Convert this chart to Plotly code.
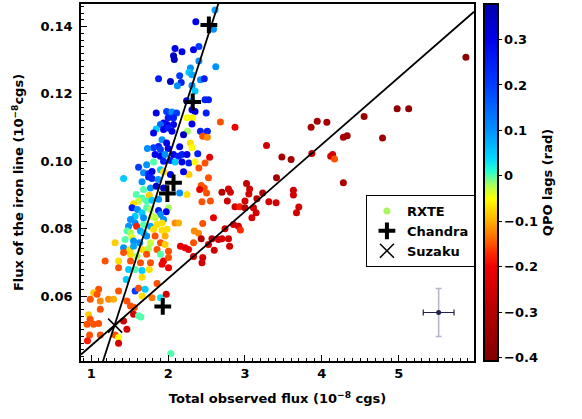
import numpy as np
import plotly.graph_objects as go

# ---------------- data ----------------
# upper cluster
a_flux = [2.61, 2.36, 2.59, 2.09, 2.18, 2.07, 2.08, 2.33, 2.40, 2.40, 2.62, 2.29, 2.27, 2.31, 2.15, 1.875, 2.03, 2.17, 2.42, 2.47, 2.12, 2.31, 2.35]
a_iron = [0.1449, 0.1414, 0.1392, 0.1335, 0.1325, 0.1313, 0.1302, 0.1331, 0.1341, 0.1298, 0.1281, 0.1277, 0.1264, 0.1257, 0.1254, 0.1245, 0.1237, 0.1234, 0.1242, 0.1245, 0.1224, 0.1225, 0.1209]
a_lag = [0.08, 0.3, 0.1, 0.3, 0.3, 0.35, 0.35, 0.3, 0.2, 0.1, 0.1, 0.1, 0.05, 0.08, 0.2, 0.25, 0.35, 0.25, 0.1, 0.25, 0.1, 0.1, 0.05]

# upper-middle cluster
b_flux = [2.24, 2.31, 2.48, 2.525, 2.35, 2.31, 1.845, 1.98, 2.05, 2.11, 2.495, 2.68, 2.00, 2.07, 2.245,
          2.32, 1.94, 1.985, 2.07, 2.31, 1.90, 1.845, 1.94, 2.00, 2.05, 1.81, 2.25, 2.42, 2.51, 2.45,
          2.51, 1.92, 1.98, 1.875, 1.81, 1.90, 1.73, 2.00, 2.15, 2.29, 2.31, 2.87, 3.28, 2.20]
b_iron = [0.1180, 0.1180, 0.1183, 0.1183, 0.1148, 0.1153, 0.1143, 0.1148, 0.1146, 0.1143, 0.1143, 0.1117, 0.1129, 0.1129, 0.1129,
          0.1129, 0.1114, 0.1109, 0.1109, 0.1111, 0.1109, 0.1096, 0.1094, 0.1099, 0.1089, 0.1084, 0.1089, 0.1089, 0.1089, 0.1074,
          0.1071, 0.1064, 0.1054, 0.1044, 0.1040, 0.1035, 0.1038, 0.1038, 0.1043, 0.1054, 0.1040, 0.1101, 0.1047, 0.1079]
b_lag = [0.3, 0.05, 0.25, 0.25, 0.3, 0.3, 0.3, 0.2, 0.1, 0.2, 0.25, -0.15, 0.25, 0.25, -0.05,
         -0.05, 0.3, 0.3, 0.3, 0.3, 0.15, 0.05, 0.3, 0.25, 0.3, 0.3, -0.02, 0.25, 0.25, -0.15,
         -0.12, 0.1, 0.3, 0.25, 0.2, 0.2, 0.1, 0.3, 0.3, -0.07, -0.05, -0.2, -0.25, 0.35]

# middle cluster
c_flux = [2.385, 2.54, 2.48, 1.83, 1.90, 1.96, 2.07, 2.135, 2.18, 2.245, 1.72, 1.615, 1.81, 1.94, 2.03,
          2.09, 2.18, 2.27, 2.35, 2.40, 1.68, 1.745, 1.79, 1.90, 1.94, 2.03, 2.27, 2.20, 2.525, 3.48,
          3.60, 3.41, 1.42, 1.66, 1.745, 1.79, 1.87, 1.68, 1.77, 1.845, 1.94, 2.15, 2.245, 1.585, 1.66,
          1.755, 3.02, 3.06, 2.43, 2.47, 2.41, 2.50, 2.70, 2.785, 2.81, 3.05, 3.23, 3.63, 3.63, 4.28,
          3.87, 4.115, 4.14, 4.165]
c_iron = [0.1022, 0.1012, 0.0995, 0.1020, 0.1015, 0.1020, 0.1020, 0.1015, 0.1020, 0.1020, 0.0990, 0.0982, 0.0998, 0.1000, 0.1002,
          0.0998, 0.0998, 0.0995, 0.0998, 0.0980, 0.0966, 0.0963, 0.0970, 0.0975, 0.0969, 0.0961, 0.0961, 0.0969, 0.0951, 0.1013,
          0.1005, 0.0951, 0.0949, 0.0939, 0.0953, 0.0949, 0.0946, 0.0916, 0.0921, 0.0926, 0.0921, 0.0906, 0.0901, 0.0901, 0.0891,
          0.0899, 0.0934, 0.0918, 0.0928, 0.0921, 0.0916, 0.0906, 0.0908, 0.0918, 0.0908, 0.0903, 0.0906, 0.0914, 0.0900, 0.0936,
          0.1023, 0.1015, 0.1020, 0.1007]
c_lag = [0.25, -0.22, -0.15, 0.3, 0.3, 0.1, 0.3, 0.25, 0.25, 0.3, 0.1, 0.2, 0.0, 0.25, 0.25,
         0.05, 0.3, 0.25, -0.05, -0.15, 0.1, 0.25, 0.3, 0.05, -0.07, 0.3, -0.08, 0.3, -0.15, -0.33,
         -0.33, -0.33, 0.05, 0.1, 0.25, 0.25, 0.1, 0.0, 0.1, 0.35, 0.35, 0.1, -0.07, 0.0, 0.0,
         -0.08, -0.28, -0.25, -0.15, -0.15, -0.22, -0.15, -0.3, -0.25, -0.25, -0.25, -0.3, -0.25, -0.25, -0.32,
         -0.28, -0.25, -0.25, -0.15]

# lower-middle cluster
d_flux = [1.615, 1.55, 1.72, 1.79, 1.875, 2.005, 1.53, 1.60, 1.66, 1.72, 1.77, 1.875, 1.975, 1.90, 1.57,
          1.68, 1.79, 1.83, 1.94, 1.51, 1.57, 1.485, 1.59, 1.68, 1.77, 1.855, 1.92, 2.09, 2.135, 1.465,
          1.51, 1.64, 1.68, 1.81, 1.92, 1.985, 1.53, 1.72, 1.83, 1.96, 1.31, 1.44, 1.55, 1.63, 1.77,
          1.90, 1.96, 2.16, 2.22, 2.265, 1.42, 1.50, 1.55, 1.66, 1.745, 1.855, 2.005, 1.42, 1.51, 1.595,
          1.72, 1.90, 1.18, 1.355, 1.51, 1.64, 1.77, 1.94, 2.005, 1.92]
d_iron = [0.0881, 0.0874, 0.0881, 0.0884, 0.0887, 0.0862, 0.0862, 0.0857, 0.0847, 0.0862, 0.0857, 0.0854, 0.0850, 0.0842, 0.0837,
          0.0832, 0.0837, 0.0832, 0.0827, 0.0827, 0.0817, 0.0807, 0.0807, 0.0812, 0.0807, 0.0812, 0.0817, 0.0817, 0.0817, 0.0793,
          0.0788, 0.0793, 0.0788, 0.0798, 0.0795, 0.0798, 0.0773, 0.0778, 0.0778, 0.0778, 0.0758, 0.0768, 0.0763, 0.0758, 0.0758,
          0.0758, 0.0753, 0.0748, 0.0743, 0.0738, 0.0743, 0.0738, 0.0748, 0.0738, 0.0741, 0.0738, 0.0733, 0.0729, 0.0724, 0.0719,
          0.0724, 0.0724, 0.0704, 0.0704, 0.0704, 0.0699, 0.0699, 0.0704, 0.0714, 0.0694]
d_lag = [-0.03, -0.07, 0.0, 0.05, 0.1, -0.02, 0.25, 0.1, 0.05, 0.0, -0.02, 0.25, 0.3, 0.1, 0.05,
         0.1, -0.03, -0.03, 0.1, 0.1, 0.1, 0.1, -0.18, 0.0, 0.08, -0.07, -0.07, -0.12, -0.1, 0.0,
         -0.02, 0.08, 0.05, -0.07, -0.07, -0.07, -0.04, 0.1, -0.15, -0.1, -0.08, 0.0, 0.1, 0.1, -0.03,
         -0.15, -0.08, -0.22, -0.22, -0.22, 0.1, -0.07, 0.08, -0.07, -0.02, -0.15, -0.15, -0.15, -0.07, -0.02,
         -0.15, 0.0, -0.15, -0.07, -0.15, -0.15, -0.15, -0.22, -0.15, -0.2]

# red branch (near the shallow line)
r_flux = [2.44, 2.55, 2.77, 3.00, 3.155, 3.31, 3.405, 2.87, 2.93, 3.00, 3.11, 3.145, 3.09, 2.59, 2.45,
          2.85, 2.915, 2.74, 2.94, 2.34, 2.395, 2.43, 2.57, 2.655, 2.70, 2.785, 2.80, 2.33, 2.525, 2.60,
          2.45, 2.33, 2.44, 3.70, 3.67]
r_iron = [0.0880, 0.0882, 0.0882, 0.0882, 0.0889, 0.0880, 0.0877, 0.0865, 0.0865, 0.0862, 0.0862, 0.0847, 0.0832, 0.0832, 0.0815,
          0.0812, 0.0807, 0.0800, 0.0796, 0.0793, 0.0786, 0.0770, 0.0770, 0.0768, 0.0770, 0.0770, 0.0748, 0.0758, 0.0753, 0.0736,
          0.0714, 0.0717, 0.0699, 0.0864, 0.0847]
r_lag = [-0.15, -0.15, -0.25, -0.25, -0.3, -0.25, -0.25, -0.25, -0.18, -0.3, -0.25, -0.25, -0.25, -0.22, -0.15,
         -0.25, -0.25, -0.25, -0.17, -0.12, -0.12, -0.3, -0.3, -0.25, -0.25, -0.25, -0.25, -0.15, -0.25, -0.25,
         -0.25, -0.25, -0.25, -0.25, -0.25]

# far bright end
e_flux = [5.875, 4.98, 5.13, 4.55, 3.86, 3.94, 4.065, 4.28, 4.33, 4.79]
e_iron = [0.1309, 0.1156, 0.1156, 0.1133, 0.1101, 0.1119, 0.1116, 0.1071, 0.1076, 0.1069]
e_lag = [-0.38, -0.37, -0.37, -0.35, -0.33, -0.33, -0.33, -0.33, -0.33, -0.35]

# faint end
f_flux = [1.355, 1.485, 1.57, 1.66, 1.755, 2.005, 1.66, 1.455, 1.095, 1.03, 1.355, 1.57, 1.615, 1.70, 1.855,
          1.117, 1.225, 1.29, 1.463, 1.51, 1.56, 1.66, 1.79, 1.90, 1.975, 1.55, 1.615, 1.645, 0.965, 0.945,
          1.03, 0.985, 1.095, 1.42, 1.463, 0.978, 1.117, 1.31, 1.355, 0.95, 1.355, 2.036, 0.987, 1.075, 1.117]
f_iron = [0.0684, 0.0679, 0.0679, 0.0676, 0.0679, 0.0684, 0.0656, 0.0649, 0.0620, 0.0610, 0.0615, 0.0615, 0.0623, 0.0620, 0.0637,
          0.0561, 0.0590, 0.0590, 0.0585, 0.0570, 0.0566, 0.0600, 0.0595, 0.0595, 0.0605, 0.0546, 0.0541, 0.0538, 0.0544, 0.0516,
          0.0516, 0.0531, 0.0518, 0.0526, 0.0501, 0.0484, 0.0484, 0.0484, 0.0477, 0.0467, 0.0460, 0.0429, 0.0590, 0.0605, 0.0585]
f_lag = [-0.15, 0.05, 0.0, 0.05, -0.07, -0.2, -0.07, 0.05, -0.15, -0.08, -0.15, 0.2, -0.15, 0.05, -0.15,
         -0.15, -0.12, -0.1, -0.15, -0.15, -0.15, -0.07, -0.13, 0.03, -0.25, -0.25, 0.0, 0.0, -0.08, -0.15,
         -0.15, -0.15, -0.15, -0.25, -0.25, -0.15, -0.15, -0.15, -0.05, -0.18, -0.25, 0.0, -0.15, -0.15, -0.12]

chandra_flux = [2.53, 2.32, 2.07, 1.99, 1.93]
chandra_iron = [0.1405, 0.1176, 0.0936, 0.0904, 0.0569]
suzaku_flux = [1.31]
suzaku_iron = [0.0512]

# typical error bar
err_flux, err_iron = [5.52], [0.0551]
err_dflux, err_diron = [0.20], [0.0071]

# fitted relations
steep_slope, steep_intercept = 0.0707, -0.0408
shallow_slope, shallow_intercept = 0.0199, 0.0254

lag_min, lag_max = -0.407, 0.378
x_range = [0.866, 5.98]
y_range = [0.0407, 0.1467]

# ---------------- assemble ----------------
rxte_flux = a_flux + b_flux + c_flux + d_flux + r_flux + e_flux + f_flux
rxte_iron = a_iron + b_iron + c_iron + d_iron + r_iron + e_iron + f_iron
rxte_lag = a_lag + b_lag + c_lag + d_lag + r_lag + e_lag + f_lag
n = min(len(rxte_flux), len(rxte_iron), len(rxte_lag))

# colour map (lag value -> colour)
cmap_lags = [-0.407, -0.30, -0.20, -0.17, -0.13, -0.09, -0.05, -0.02, 0.01, 0.04, 0.10, 0.20, 0.30, 0.378]
cmap_cols = ["rgb(128,0,0)", "rgb(180,0,0)", "rgb(240,0,0)", "rgb(255,40,0)", "rgb(255,120,0)",
             "rgb(255,190,0)", "rgb(255,255,0)", "rgb(170,255,90)", "rgb(40,255,210)", "rgb(0,215,255)",
             "rgb(0,145,255)", "rgb(0,60,255)", "rgb(0,0,235)", "rgb(0,0,170)"]
span = lag_max - lag_min
colorscale = [[(v - lag_min) / span, c] for v, c in zip(cmap_lags, cmap_cols)]
colorscale[0][0], colorscale[-1][0] = 0.0, 1.0

FONT = "DejaVu Sans"
bold = dict(family=FONT, size=13, color="black", weight="bold")

fig = go.Figure()

fig.add_trace(go.Scatter(
    x=rxte_flux[:n], y=rxte_iron[:n], mode="markers", name="RXTE",
    marker=dict(size=7, color=rxte_lag[:n], colorscale=colorscale, cmin=lag_min, cmax=lag_max,
                line=dict(width=0),
                colorbar=dict(
                    x=1.0, xanchor="left", xref="paper", xpad=10,
                    y=0.5, yanchor="middle", len=1.0, ypad=0,
                    thickness=14, outlinewidth=2, outlinecolor="black",
                    tickvals=[-0.4, -0.3, -0.2, -0.1, 0, 0.1, 0.2, 0.3],
                    ticktext=["\u22120.4", "\u22120.3", "\u22120.2", "\u22120.1", "0", "0.1", "0.2", "0.3"],
                    ticks="outside", ticklen=3, tickwidth=1, tickcolor="black",
                    tickfont=bold,
                    title=dict(text="QPO lags (rad)", side="right", font=bold),
                )),
    showlegend=False,
))
# legend entry for RXTE (light green marker)
fig.add_trace(go.Scatter(x=[None], y=[None], mode="markers", name="RXTE",
                         marker=dict(size=7, color="rgb(170,245,100)")))

xl = np.array(x_range)
fig.add_trace(go.Scatter(x=xl, y=steep_slope * xl + steep_intercept, mode="lines",
                         line=dict(color="black", width=1.8), showlegend=False, hoverinfo="skip"))
fig.add_trace(go.Scatter(x=xl, y=shallow_slope * xl + shallow_intercept, mode="lines",
                         line=dict(color="black", width=1.8), showlegend=False, hoverinfo="skip"))

fig.add_trace(go.Scatter(x=chandra_flux, y=chandra_iron, mode="markers", name="Chandra",
                         marker=dict(symbol="cross-thin", size=12, line=dict(color="black", width=4))))
fig.add_trace(go.Scatter(x=suzaku_flux, y=suzaku_iron, mode="markers", name="Suzaku",
                         marker=dict(symbol="x-thin", size=14, line=dict(color="black", width=1.5))))

fig.add_trace(go.Scatter(
    x=err_flux, y=err_iron, mode="markers", showlegend=False,
    marker=dict(size=5, color="#22224a"),
    error_x=dict(type="data", array=err_dflux, color="#22224a", thickness=1.2, width=3),
    error_y=dict(type="data", array=err_diron, color="#b4b4cc", thickness=1.5, width=3),
))

axis_common = dict(showline=True, linecolor="black", linewidth=1.5, mirror=True,
                   ticks="inside", ticklen=6, tickwidth=1, tickcolor="black",
                   tickfont=bold, showgrid=False, zeroline=False, automargin=False)

fig.update_xaxes(range=x_range, dtick=1, tick0=0, **axis_common,
                 minor=dict(ticks="inside", ticklen=3, dtick=0.1, tickcolor="black"),
                 title=dict(text="Total observed flux (10<sup>\u22128</sup> cgs)", font=bold, standoff=14))
fig.update_yaxes(range=y_range, dtick=0.02, tick0=0, tickformat=".2f", **axis_common,
                 ticklabelstandoff=4,
                 minor=dict(ticks="inside", ticklen=3, dtick=0.002, tickcolor="black"),
                 title=dict(text="Flux of the iron line (10<sup>\u22128</sup>cgs)", font=bold, standoff=14))

fig.update_layout(
    width=582, height=419,
    margin=dict(l=81, r=108, t=4, b=58),
    plot_bgcolor="white", paper_bgcolor="white",
    font=bold,
    legend=dict(x=0.725, y=0.465, xanchor="left", yanchor="top",
                bordercolor="black", borderwidth=1, bgcolor="white",
                font=bold, itemsizing="trace", tracegroupgap=0),
)

fig.write_html("out.html", config={"displayModeBar": False},
               post_script="document.body.style.margin='0px';")
